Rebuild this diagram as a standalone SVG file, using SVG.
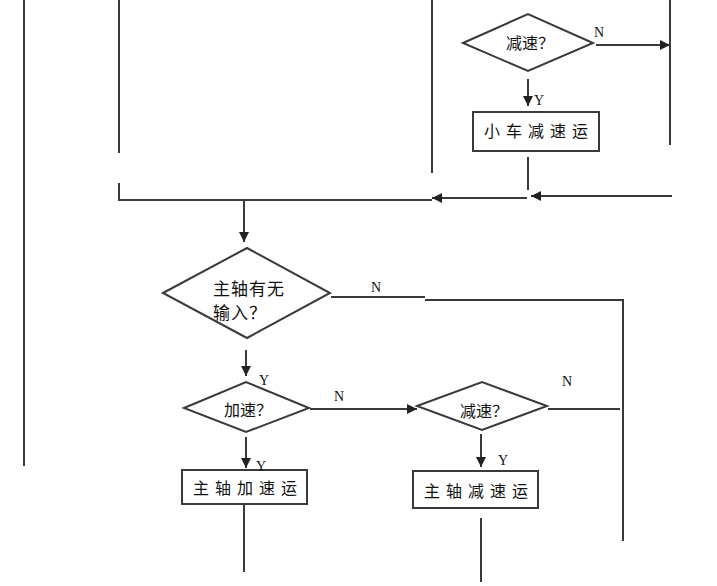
<svg xmlns="http://www.w3.org/2000/svg" width="717" height="586" viewBox="0 0 717 586">
<defs>
<marker id="ah" viewBox="0 0 10 10" refX="10" refY="5" markerWidth="5" markerHeight="5" orient="auto" markerUnits="strokeWidth">
<path d="M0,0 L10,5 L0,10 z" fill="#222"/>
</marker>
<style>
.ln{fill:none;stroke:#3a3a3a;stroke-width:2}
.arr{fill:none;stroke:#3a3a3a;stroke-width:2;marker-end:url(#ah)}
.shp{fill:#fff;stroke:#3a3a3a;stroke-width:2}
.cn{font-family:"Noto Sans CJK SC","Noto Sans CJK JP",sans-serif;font-size:16px;fill:#111}
.big{font-size:17px;letter-spacing:1px}
.sp{letter-spacing:6px}
.yn{font-family:"Liberation Serif",serif;font-size:14px;fill:#111}
</style>
</defs>
<rect width="717" height="586" fill="#fff"/>
<g id="connectors">
<line class="ln" x1="24" y1="0" x2="24" y2="466"/>
<line class="ln" x1="119" y1="0" x2="119" y2="153"/>
<polyline class="ln" points="119,183 119,200 432,200"/>
<line class="ln" x1="432" y1="0" x2="432" y2="173"/>
<line class="arr" x1="527" y1="198" x2="432" y2="198"/>
<line class="ln" x1="670" y1="0" x2="670" y2="145"/>
<line class="arr" x1="596" y1="45" x2="670" y2="45"/>
<line class="arr" x1="528" y1="79" x2="528" y2="106"/>
<line class="ln" x1="528" y1="157" x2="528" y2="190"/>
<line class="arr" x1="672" y1="196" x2="531" y2="196"/>
<line class="arr" x1="244" y1="200" x2="244" y2="242"/>
<line class="ln" x1="331" y1="297" x2="425" y2="297"/>
<polyline class="ln" points="425,300 623,300 623,541"/>
<line class="arr" x1="246" y1="350" x2="246" y2="376"/>
<line class="arr" x1="310" y1="409" x2="417" y2="409"/>
<line class="ln" x1="548" y1="409" x2="620" y2="409"/>
<line class="arr" x1="246" y1="437" x2="246" y2="468"/>
<line class="ln" x1="244" y1="504" x2="244" y2="572"/>
<line class="arr" x1="481" y1="434" x2="481" y2="467"/>
<line class="ln" x1="481" y1="518" x2="481" y2="582"/>
</g>
<g id="dec-top">
<polygon class="shp" points="463,43 528,14 593,43 528,71"/>
<text class="cn" x="506" y="49">减速？</text>
<text class="yn" x="594" y="37">N</text>
<text class="yn" x="534" y="105">Y</text>
</g>
<g id="box-cart">
<rect class="shp" x="473" y="112" width="126" height="39"/>
<text class="cn sp" x="539" y="137" text-anchor="middle">小车减速运</text>
</g>
<g id="dec-spindle">
<polygon class="shp" points="163,293 247,248 330,293 247,338"/>
<text class="cn big" x="213" y="295">主轴有无</text>
<text class="cn big" x="213" y="319">输入？</text>
<text class="yn" x="371" y="292">N</text>
</g>
<g id="dec-acc">
<polygon class="shp" points="184,408 246,382 309,408 246,432"/>
<text class="cn" x="224" y="416">加速？</text>
<text class="yn" x="259" y="385">Y</text>
<text class="yn" x="334" y="401">N</text>
</g>
<g id="dec-dec">
<polygon class="shp" points="417,406 482,382 547,406 482,430"/>
<text class="cn" x="460" y="417">减速？</text>
<text class="yn" x="562" y="386">N</text>
<text class="yn" x="498" y="465">Y</text>
</g>
<g id="box-acc">
<rect class="shp" x="182" y="470" width="125" height="34"/>
<text class="cn sp" x="248" y="494" text-anchor="middle">主轴加速运</text>
<text class="yn" x="256" y="471">Y</text>
</g>
<g id="box-dec">
<rect class="shp" x="413" y="471" width="125" height="37"/>
<text class="cn sp" x="479" y="497" text-anchor="middle">主轴减速运</text>
</g>
</svg>
